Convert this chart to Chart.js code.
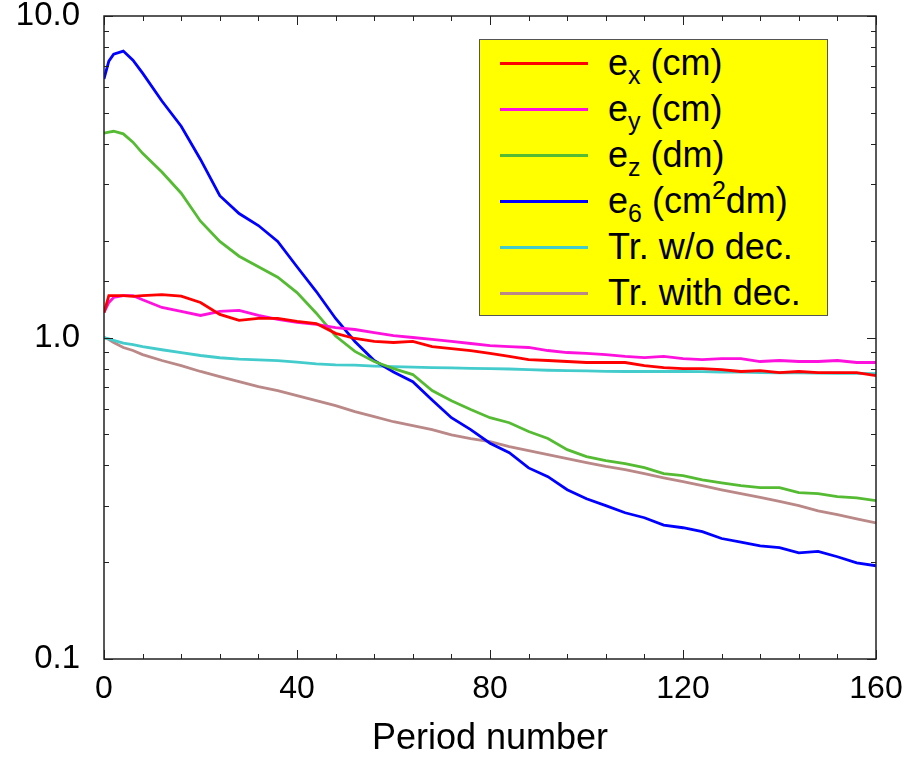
<!DOCTYPE html>
<html>
<head>
<meta charset="utf-8">
<script src="https://cdn.jsdelivr.net/npm/chart.js@4/dist/chart.umd.min.js"></script>
<style>
  body { margin: 0; background: #fff; }
  #wrap { position: relative; width: 909px; height: 761px; }
  #legend {
    position: absolute; left: 479px; top: 39px; width: 349px; height: 277px;
    box-sizing: border-box; background: #ffff00; border: 1px solid #555;
    font-family: 'Liberation Sans', Arial, Helvetica, sans-serif; font-size: 36px; color: #000;
  }
  #legend .row { display: flex; align-items: center; height: 46px; white-space: nowrap; }
  #legend .swatch { margin-left: 20px; width: 88px; height: 3px; }
  #legend .txt { margin-left: 20px; line-height: 1; }
  #legend sub { font-size: 25px; vertical-align: -9px; line-height: 0; }
  #legend sup { font-size: 25px; vertical-align: 14px; line-height: 0; }
</style>
</head>
<body>
<div id="wrap">
  <canvas id="emitChart" width="909" height="761"></canvas>
  <div id="legend"></div>
</div>
<script>
// periodos muestreados (eje x)
const periods = [0, 1, 2, 4, 6, 8, 12, 16, 20, 24, 28, 32, 36, 40, 44, 48, 52, 56, 60, 64, 68, 72, 76, 80,
  84, 88, 92, 96, 100, 104, 108, 112, 116, 120, 124, 128, 132, 136, 140, 144, 148, 152, 156, 160];

// valores
const ex = [1.196, 1.35, 1.35, 1.35, 1.342, 1.35, 1.36, 1.345, 1.285, 1.18, 1.13, 1.146, 1.146, 1.122, 1.105, 1.03,
  0.993, 0.972, 0.965, 0.972, 0.937, 0.924, 0.911, 0.892, 0.873, 0.854, 0.848, 0.842, 0.836, 0.836, 0.836, 0.818,
  0.806, 0.800, 0.800, 0.795, 0.784, 0.789, 0.778, 0.784, 0.778, 0.778, 0.778, 0.761];
const ey = [1.196, 1.285, 1.332, 1.35, 1.35, 1.31, 1.24, 1.205, 1.171, 1.205, 1.214, 1.171, 1.138, 1.114, 1.098, 1.074,
  1.059, 1.036, 1.014, 1.0, 0.986, 0.972, 0.958, 0.944, 0.937, 0.931, 0.911, 0.898, 0.892, 0.885, 0.873, 0.866,
  0.873, 0.860, 0.854, 0.860, 0.860, 0.842, 0.848, 0.842, 0.842, 0.848, 0.836, 0.836];
const ez = [4.32, 4.35, 4.38, 4.30, 4.05, 3.74, 3.27, 2.81, 2.30, 1.99, 1.79, 1.66, 1.54, 1.38, 1.19, 1.01,
  0.905, 0.842, 0.800, 0.767, 0.684, 0.636, 0.597, 0.563, 0.543, 0.510, 0.485, 0.448, 0.426, 0.414, 0.405, 0.394,
  0.377, 0.372, 0.361, 0.353, 0.346, 0.341, 0.341, 0.329, 0.327, 0.320, 0.317, 0.311];
const e6 = [6.37, 7.24, 7.61, 7.78, 7.29, 6.64, 5.44, 4.54, 3.58, 2.76, 2.43, 2.23, 1.99, 1.66, 1.39, 1.146,
  0.972, 0.848, 0.781, 0.729, 0.639, 0.563, 0.517, 0.469, 0.438, 0.393, 0.369, 0.336, 0.315, 0.300, 0.285, 0.275,
  0.261, 0.256, 0.249, 0.237, 0.231, 0.225, 0.222, 0.214, 0.216, 0.208, 0.199, 0.195];
const trNoDec = [1.0, 0.99, 0.98, 0.96, 0.95, 0.937, 0.916, 0.897, 0.879, 0.865, 0.857, 0.852, 0.847, 0.838, 0.828, 0.822,
  0.82, 0.815, 0.812, 0.809, 0.806, 0.804, 0.802, 0.80, 0.798, 0.795, 0.791, 0.789, 0.787, 0.785, 0.784, 0.784,
  0.784, 0.784, 0.783, 0.781, 0.780, 0.778, 0.777, 0.776, 0.775, 0.774, 0.773, 0.772];
const trDec = [1.0, 0.986, 0.965, 0.931, 0.911, 0.885, 0.848, 0.818, 0.784, 0.756, 0.729, 0.703, 0.683, 0.659, 0.636, 0.614,
  0.588, 0.567, 0.547, 0.532, 0.517, 0.498, 0.485, 0.474, 0.458, 0.445, 0.432, 0.420, 0.408, 0.397, 0.388, 0.377,
  0.366, 0.356, 0.346, 0.336, 0.327, 0.318, 0.309, 0.300, 0.289, 0.281, 0.273, 0.265];

const seriesNames = ['e<sub>x</sub> (cm)', 'e<sub>y</sub> (cm)', 'e<sub>z</sub> (dm)', 'e<sub>6</sub> (cm<sup>2</sup>dm)',
  'Tr. w/o dec.', 'Tr. with dec.'];
const seriesData = [ex, ey, ez, e6, trNoDec, trDec];
const seriesColors = ['#ff0000', '#ff11dd', '#55bb33', '#0000ff', '#44cccc', '#bb8888'];

const isPow10 = v => Math.abs(Math.log10(v) - Math.round(Math.log10(v))) < 1e-6;

// marco y marcas hacia dentro en los cuatro lados
const frameTicks = {
  id: 'frameTicks',
  afterDatasetsDraw(chart) {
    const { ctx, chartArea: a, scales: { x, y } } = chart;
    ctx.save();
    ctx.strokeStyle = '#222';
    ctx.lineWidth = 1;
    ctx.beginPath();
    x.ticks.forEach(t => {
      const px = Math.round(x.getPixelForValue(t.value)) + 0.5;
      const len = t.value % 40 === 0 ? 9 : 5;
      ctx.moveTo(px, a.bottom); ctx.lineTo(px, a.bottom - len);
      ctx.moveTo(px, a.top); ctx.lineTo(px, a.top + len);
    });
    y.ticks.forEach(t => {
      const py = Math.round(y.getPixelForValue(t.value)) + 0.5;
      const len = isPow10(t.value) ? 9 : 5;
      ctx.moveTo(a.left, py); ctx.lineTo(a.left + len, py);
      ctx.moveTo(a.right, py); ctx.lineTo(a.right - len, py);
    });
    ctx.stroke();
    ctx.lineWidth = 1.5;
    ctx.strokeRect(a.left, a.top, a.right - a.left, a.bottom - a.top);
    ctx.restore();
  }
};

const fontFam = "'Liberation Sans', Arial, Helvetica, sans-serif";

const config = {
  type: 'line',
  data: {
    datasets: seriesData.map((vals, i) => ({
      label: seriesNames[i].replace(/<[^>]+>/g, ''),
      data: vals.map((v, k) => ({ x: periods[k], y: v })),
      borderColor: seriesColors[i],
      backgroundColor: seriesColors[i],
      borderWidth: 2.8,
      pointRadius: 0,
      tension: 0,
      fill: false
    }))
  },
  options: {
    responsive: false,
    animation: false,
    layout: { padding: { top: 16, right: 33, left: 0, bottom: 0 } },
    plugins: {
      legend: { display: false },
      tooltip: { enabled: false }
    },
    scales: {
      x: {
        type: 'linear',
        min: 0,
        max: 160,
        afterFit: s => { s.height = 102; s.paddingLeft = 0; s.paddingRight = 0; },
        grid: { display: true, drawOnChartArea: false, drawTicks: false },
        border: { display: false },
        ticks: {
          stepSize: 8,
          autoSkip: false,
          maxRotation: 0,
          padding: 11,
          color: '#000',
          font: { family: fontFam, size: 32 },
          callback: v => (v % 40 === 0 ? String(v) : '')
        },
        title: {
          display: true,
          text: 'Period number',
          color: '#000',
          font: { family: fontFam, size: 36 },
          padding: { top: 0, bottom: 0 }
        }
      },
      y: {
        type: 'logarithmic',
        min: 0.1,
        max: 10,
        afterFit: s => { s.width = 104; s.paddingTop = 0; s.paddingBottom = 0; },
        grid: { display: true, drawOnChartArea: false, drawTicks: false },
        border: { display: false },
        ticks: {
          autoSkip: false,
          padding: 24,
          color: '#000',
          font: { family: fontFam, size: 33 },
          callback: v => (isPow10(v) ? Number(v).toFixed(1) : '')
        }
      }
    }
  },
  plugins: [frameTicks]
};

new Chart(document.getElementById('emitChart').getContext('2d'), config);

// leyenda con subindices
const legendEl = document.getElementById('legend');
seriesNames.forEach((name, i) => {
  const row = document.createElement('div');
  row.className = 'row';
  row.innerHTML = '<span class="swatch" style="background:' + seriesColors[i] + '"></span><span class="txt">' + name + '</span>';
  legendEl.appendChild(row);
});
</script>
</body>
</html>
